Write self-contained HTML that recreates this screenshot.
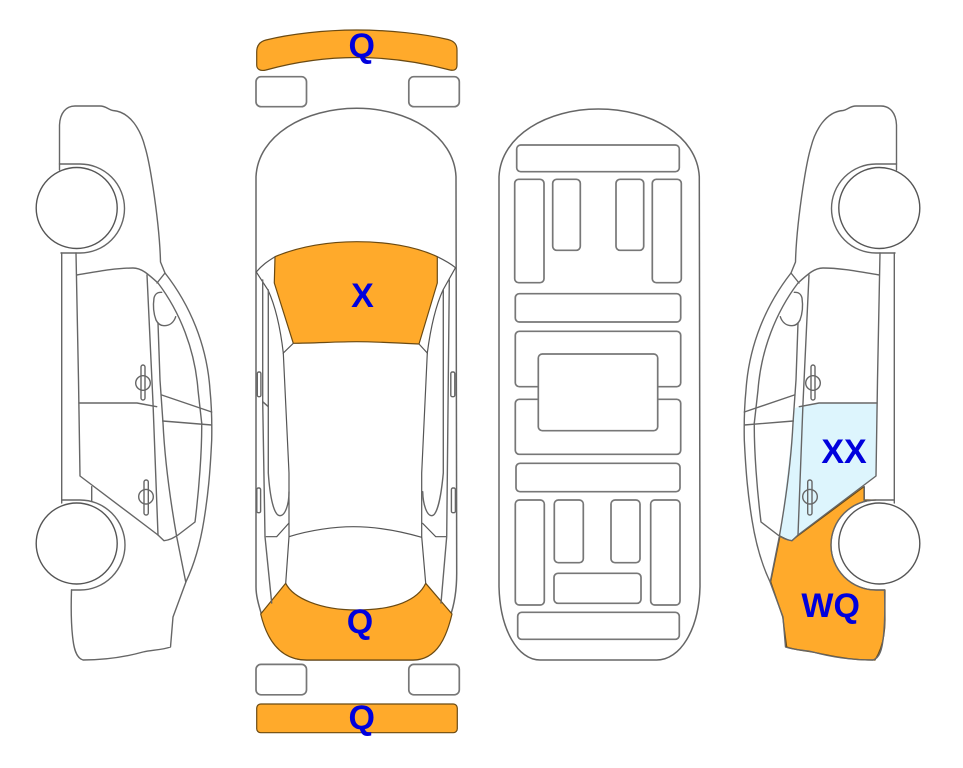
<!DOCTYPE html>
<html>
<head>
<meta charset="utf-8">
<style>
html,body{margin:0;padding:0;background:#fff}
svg{display:block}
.l{fill:none;stroke:#666;stroke-width:1.4;stroke-linejoin:round;stroke-linecap:round}
.t{fill:none;stroke:#555;stroke-width:1.2}
.r{fill:#fff;stroke:#777;stroke-width:1.7}
.o{fill:#FFAA2B;stroke:#6b4a12;stroke-width:1.2;stroke-linejoin:round}
text{font-family:"Liberation Sans",sans-serif;font-weight:bold;font-size:34px;fill:#0000DD;text-anchor:middle}
</style>
</head>
<body>
<svg width="963" height="768" viewBox="0 0 963 768" xmlns="http://www.w3.org/2000/svg">
<defs>
<g id="side">
<path class="l" d="M59.5 170V125C60 113 66 106 75 106L100 106C106 106 109 110 113 110.5C120 111 127 114 134 123C140 131 143 139 145 147C149 160 151 175 153 187C156 207 160 240 160.5 262L165 273C190 305 207 345 210 390C212 410 212 425 211.7 440C210 475 208 495 204 520C200 545 194 565 186 581.7L173 617L170.5 647C162 650 152 650 143 652C125 657 105 660 83 660C76 658 74 648 73 640C71 625 71 605 71.5 590"/>
<path class="l" d="M59.5 164H80A44.5 44.5 0 0 1 80 253H61"/>
<path class="l" d="M61.7 253V503"/>
<path class="l" d="M76 253L78.5 380L80 476L158 535L164 540.7C170 540 173 538 178 535L195 522C199 490 202 450 201.7 423"/>
<path class="l" d="M76.7 275C95 272 115 268 133 268C141 268 147 273 158 283C180 312 195 350 198 390L201.7 423"/>
<path class="l" d="M165 273L157 283"/>
<path class="l" d="M147 275L153 403L158 535"/>
<path class="l" d="M158 323L160 380L163 423C165 465 172 510 176.7 536.7L185.7 581.7"/>
<path class="l" d="M161.7 292.3C157 292 155 294 154 298C153 305 153 312 156 320C158 324 161 325.7 164 325.7C170 325.7 174 322 175.7 316.7"/>
<path class="l" d="M79 403C100 403 120 403 137 403L156.7 406.7"/>
<path class="l" d="M161.7 395L211.7 412"/>
<path class="l" d="M162.7 421L211.7 425"/>
<path class="l" d="M91.7 486.7V501"/>
<path class="l" d="M61.7 500H80A45 45 0 0 1 80 590H71.5"/>
<rect class="l" x="141" y="365" width="4" height="35" rx="2"/>
<circle class="l" cx="143" cy="383" r="7.3"/>
<rect class="l" x="144" y="480" width="4.3" height="35" rx="2"/>
<circle class="l" cx="146" cy="496.7" r="7.3"/>
</g>
</defs>

<!-- left side car -->
<use href="#side"/>
<circle cx="76.7" cy="208" r="40.5" fill="#fff" stroke="#555" stroke-width="1.4"/>
<circle cx="76.7" cy="543.5" r="40.5" fill="#fff" stroke="#555" stroke-width="1.4"/>

<!-- right side fills -->
<path d="M795 408C805 405 815 403.5 828 403L876.7 404L875.7 476L796.7 536.7L791.7 540.7C787 540 784 538 780 536Z" fill="#DDF5FD"/>
<path class="o" d="M864 486.7V500H876A45 45 0 0 0 876 590H885V620C885 640 880 652 875 660C867 660 860 660 853 659C840 658 828 655 817 653C807 651 795 650 786.7 647L782.7 617L770.7 581.7L780 536C784 538 787 540 791.7 540.7L796.7 536.7Z"/>
<use href="#side" transform="translate(956 0) scale(-1 1)"/>
<circle cx="879.3" cy="208" r="40.5" fill="#fff" stroke="#555" stroke-width="1.4"/>
<circle cx="879.3" cy="543.5" r="40.5" fill="#fff" stroke="#555" stroke-width="1.4"/>

<!-- top view car -->
<path class="o" stroke="#5a4a30" d="M256.7 52C256.7 45 260 41.5 266 40C290 34 325 30 356.7 30C390 30 425 34 448 39.5C454 41 457 44 457 50V65C457 69 455 71 450 70C420 62 390 57.5 356.7 57.5C325 57.5 295 62 266 70C260 71.5 256.7 69 256.7 65Z"/>
<rect class="r" x="256" y="76.7" width="50.5" height="30" rx="5"/>
<rect class="r" x="408.8" y="76.7" width="50.5" height="30" rx="5"/>
<rect class="r" x="256" y="664.4" width="50.5" height="30.4" rx="5"/>
<rect class="r" x="408.8" y="664.4" width="50.5" height="30.4" rx="5"/>
<rect class="o" x="256.7" y="704" width="200.6" height="28.7" rx="4"/>

<path d="M256 176.7C258 135 305 108.3 356.7 108.3C408 108.3 454 135 456 176.7L456.7 573C456.7 590 455 603 450 616.7C443 645 430 660 413 660H306.7C285 660 270 645 261.7 615C258 603 256 595 256 586.7Z" fill="#fff" stroke="#666" stroke-width="1.5"/>

<path class="o" d="M275 256.7C300 246 330 241.7 356.7 241.7C385 241.7 415 246 437.3 256.7V283L419 344C400 343 375 341.7 356.7 341.7C340 341.7 315 343 293.3 343.3L274.3 283Z"/>
<path class="o" d="M260.7 614L285.7 583.3C293 598 320 610 356.7 610C395 610 418 600 425.7 583.3L452 614C447 635 438 660 413 660H306.7C280 660 267 640 260.7 614Z"/>

<g class="t">
<path d="M256 272.3C262 265 268 261 275 256.7"/>
<path d="M455.5 267.7C450 263 444 260 437.3 256.7"/>
<path d="M256.5 272.3L268 290C274 303 280 325 283.3 353L293.3 343.3"/>
<path d="M455.5 267.7L443 290C437 303 431 325 427.3 353L419 344"/>
<path d="M283.3 353L289 473V536.7L285.7 583.3"/>
<path d="M427.3 353L421.7 473V536.7L425.7 583.3"/>
<path d="M289 536.7C310 530 335 526.7 353.3 526.7C375 526.7 400 531 421.7 537.3"/>
<path d="M289 523L276.7 536.7H265.7"/>
<path d="M422.3 523L435.7 536.7H446.7"/>
</g>
<g class="l">
<path d="M262.7 280V401.7L265 536.7L271.7 603"/>
<path d="M449.3 280L446.7 536.7L441 603"/>
<path d="M268.3 290V473C270 498 274 515.7 280 515.7C285 515.7 289 505 289 491.7"/>
<path d="M443.3 290V473C441 498 437 515.7 431.7 515.7C427 515.7 423 505 422.7 491.7"/>
<path d="M262.7 401.7L268.3 406.7"/>
<rect x="257.3" y="372" width="3.6" height="24.7" rx="1.5"/>
<rect x="256.8" y="488" width="3.8" height="24.7" rx="1.5"/>
<rect x="450.8" y="372" width="4" height="24.7" rx="1.5"/>
<rect x="451.4" y="488" width="4" height="24.7" rx="1.5"/>
</g>

<!-- underbody -->
<path d="M499 176.7C501 135 548 109 598.3 109C650 109 697 135 699.3 176.7L700 586.7C699 630 680 660 656.7 660H540C518 660 500 630 499 586.7Z" fill="#fff" stroke="#666" stroke-width="1.5"/>
<g class="r">
<rect x="516.7" y="145" width="162.6" height="26.7" rx="4"/>
<rect x="514.7" y="179.3" width="29.3" height="103.4" rx="4"/>
<rect x="552.7" y="179.3" width="27.6" height="71" rx="4"/>
<rect x="616" y="179.3" width="27.7" height="71" rx="4"/>
<rect x="652.3" y="179.3" width="29" height="103.4" rx="4"/>
<rect x="515.3" y="293.7" width="165.4" height="28.3" rx="4"/>
<path d="M537.7 386.7H519.3A4 4 0 0 1 515.3 382.7V335.3A4 4 0 0 1 519.3 331.3H676.7A4 4 0 0 1 680.7 335.3V382.7A4 4 0 0 1 676.7 386.7H657.7Z"/>
<path d="M537.7 399.3H519.3A4 4 0 0 0 515.3 403.3V450.3A4 4 0 0 0 519.3 454.3H676.7A4 4 0 0 0 680.7 450.3V403.3A4 4 0 0 0 676.7 399.3H657.7Z"/>
<rect x="538.3" y="354" width="119.4" height="76.7" rx="4"/>
<rect x="516" y="463.3" width="164" height="28.4" rx="4"/>
<rect x="515.3" y="500" width="29" height="105" rx="4"/>
<rect x="554.3" y="500" width="29" height="62.7" rx="4"/>
<rect x="611" y="500" width="29" height="62.7" rx="4"/>
<rect x="650.7" y="500" width="29.3" height="105" rx="4"/>
<rect x="554" y="573.3" width="87" height="30" rx="4"/>
<rect x="517.7" y="612.3" width="161.6" height="27" rx="4"/>
</g>

<text x="361.7" y="57">Q</text>
<text x="362.5" y="307">X</text>
<text x="360" y="633">Q</text>
<text x="361.7" y="729">Q</text>
<text x="844" y="463">XX</text>
<text x="830.7" y="617">WQ</text>
</svg>
</body>
</html>
